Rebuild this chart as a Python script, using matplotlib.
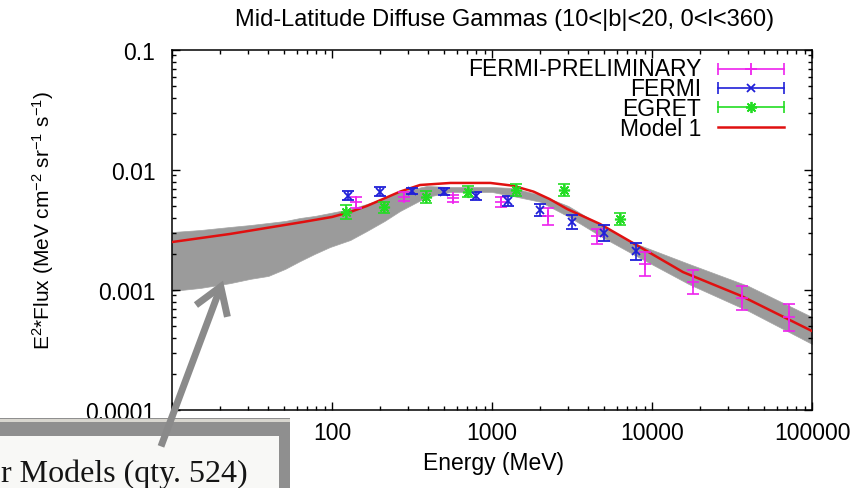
import numpy as np
import matplotlib
matplotlib.use('Agg')
import matplotlib.pyplot as plt
from matplotlib.patches import Rectangle, FancyArrowPatch
from matplotlib.ticker import FixedLocator, FixedFormatter, LogLocator, NullFormatter

plt.rcParams['font.family'] = ['Liberation Sans', 'DejaVu Sans']
plt.rcParams['mathtext.default'] = 'regular'

# FERMI preliminary spectrum (MeV, MeV cm^-2 sr^-1 s^-1), error half-width in dex
prelim_e = [141, 282, 570, 1138, 2239, 4529, 9036, 18030, 36300, 71800]
prelim_flux = [0.0054, 0.0060, 0.0058, 0.0054, 0.0041, 0.0028, 0.00165, 0.00117, 0.00086, 0.00059]
prelim_err = [0.045, 0.04, 0.028, 0.042, 0.067, 0.06, 0.1, 0.1, 0.1, 0.11]

# FERMI
fermi_e = [126, 200, 316, 501, 794, 1259, 1995, 3162, 5012, 7943]
fermi_flux = [0.0061, 0.0066, 0.0067, 0.0066, 0.0061, 0.0055, 0.0046, 0.0037, 0.0030, 0.0021]
fermi_err = [0.036, 0.035, 0.028, 0.03, 0.033, 0.04, 0.05, 0.058, 0.065, 0.07]

# EGRET
egret_e = [122, 212, 387, 707, 1414, 2828, 6325]
egret_flux = [0.0045, 0.0049, 0.0060, 0.0066, 0.0068, 0.0068, 0.0039]
egret_err = [0.058, 0.045, 0.05, 0.045, 0.048, 0.048, 0.05]

# Model 1
model_e = [10, 23, 66, 100, 130, 165, 266, 355, 550, 977, 1350, 1820, 2290, 2950,
           4730, 8410, 15630, 36300, 100000]
model_flux = [0.00251, 0.00293, 0.00369, 0.00406, 0.00447, 0.00501, 0.0066, 0.0075,
              0.0078, 0.0078, 0.0074, 0.0066, 0.00573, 0.00473, 0.00355, 0.00228,
              0.00141, 0.00089, 0.000455]

# envelope of the other 524 models
band_e = [10, 15, 23, 31, 40, 51, 63, 78, 97, 130, 165, 213, 266, 391, 547,
          1000, 1350, 2000, 3000, 5000, 8000, 17000, 40000, 100000]
band_hi = [0.00304, 0.00316, 0.00335, 0.00348, 0.00362, 0.00376, 0.00398, 0.00414,
           0.00438, 0.00473, 0.00521, 0.00585, 0.00656, 0.00736, 0.00721,
           0.00721, 0.00708, 0.0062, 0.00501, 0.00335, 0.00242, 0.00165, 0.00108, 0.000596]
band_lo = [0.000982, 0.00104, 0.00114, 0.00124, 0.00131, 0.00150, 0.00174, 0.00200,
           0.00228, 0.00261, 0.00310, 0.00376, 0.00455, 0.00596, 0.00656,
           0.00656, 0.00607, 0.00544, 0.0041, 0.00271, 0.00192, 0.00112, 0.00067, 0.000355]

x_ticks = [10, 100, 1000, 10000, 100000]
x_labels = ['10', '100', '1000', '10000', '100000']
y_ticks = [0.0001, 0.001, 0.01, 0.1]
y_labels = ['0.0001', '0.001', '0.01', '0.1']

key_names = ['FERMI-PRELIMINARY', 'FERMI', 'EGRET', 'Model 1']

MAGENTA = '#ee22ee'
BLUE = '#2020d8'
GREEN = '#22dd22'
RED = '#e01010'
FS = 16.5
W, H = 856, 489


def fx(px):
    return px / W


def fy(py):
    return 1 - py / H


def ax_x(px):
    return (px - 172) / 640


def ax_y(py):
    return (411 - py) / 360


def dex_bars(flux, err):
    flux = np.array(flux)
    err = np.array(err)
    return [flux - flux / 10**err, flux * 10**err - flux]


fig = plt.figure(figsize=(W / 100, H / 100), dpi=100)
ax = fig.add_axes([fx(172), fy(411), 640 / W, 360 / H])
ax.set_xscale('log')
ax.set_yscale('log')
ax.set_xlim(10, 100000)
ax.set_ylim(0.0001, 0.1)

ax.fill_between(band_e, band_lo, band_hi, color='#9b9b9b', lw=0.5, edgecolor='#a4a4a4', zorder=1)
ax.plot(model_e, model_flux, color=RED, lw=1.8, zorder=3)

ax.errorbar(prelim_e, prelim_flux, yerr=dex_bars(prelim_flux, prelim_err), fmt='+',
            color=MAGENTA, ms=8, mew=1.2, elinewidth=1.2, capsize=4, capthick=1.2, zorder=4)
ax.errorbar(fermi_e, fermi_flux, yerr=dex_bars(fermi_flux, fermi_err), fmt='x',
            color=BLUE, ms=6, mew=1.3, elinewidth=1.2, capsize=4, capthick=1.2, zorder=4)
ax.errorbar(egret_e, egret_flux, yerr=dex_bars(egret_flux, egret_err), fmt='none',
            color=GREEN, elinewidth=1.2, capsize=4, capthick=1.2, zorder=4)
ax.plot(egret_e, egret_flux, ls='none', marker=(8, 2, 0), color=GREEN, ms=8, mew=1.2, zorder=4)

ax.xaxis.set_major_locator(FixedLocator(x_ticks))
ax.xaxis.set_major_formatter(FixedFormatter(x_labels))
ax.yaxis.set_major_locator(FixedLocator(y_ticks))
ax.yaxis.set_major_formatter(FixedFormatter(y_labels))
for axis in (ax.xaxis, ax.yaxis):
    axis.set_minor_locator(LogLocator(base=10, subs=np.arange(2, 10)))
    axis.set_minor_formatter(NullFormatter())
ax.tick_params(which='both', direction='in', top=True, right=True, width=1, labelsize=FS)
ax.tick_params(which='major', length=6)
ax.tick_params(which='minor', length=3)
ax.tick_params(axis='x', pad=8)
ax.tick_params(axis='y', pad=12)
for s in ax.spines.values():
    s.set_linewidth(1.1)

ax.set_xlabel('Energy (MeV)', fontsize=FS)
ax.xaxis.set_label_coords(0.503, -0.115)
ax.set_ylabel('E$^{2}$*Flux (MeV cm$^{-2}$ sr$^{-1}$ s$^{-1}$)', fontsize=15)
ax.yaxis.set_label_coords(-0.181, 0.528)
fig.text(fx(505), fy(20), 'Mid-Latitude Diffuse Gammas (10<|b|<20, 0<l<360)',
         ha='center', va='center', fontsize=17)

# key, drawn gnuplot style with horizontal error bars; names as one text block
key_rows = [69.5 + 19.4 * i for i in range(4)]
ax.text(ax_x(701), ax_y(np.mean(key_rows) + 1), '\n'.join(key_names), transform=ax.transAxes,
        ha='right', va='center', multialignment='right', fontsize=FS, linespacing=0.83)
key_styles = [(MAGENTA, '+'), (BLUE, 'x'), (GREEN, (8, 2, 0)), (RED, None)]
for row, (col, mk) in zip(key_rows, key_styles):
    ky = ax_y(row)
    kx = [ax_x(718), ax_x(784)]
    if mk is None:
        ax.plot(kx, [ky, ky], color=col, lw=1.8, transform=ax.transAxes)
        continue
    ax.plot(kx, [ky, ky], color=col, lw=1.2, transform=ax.transAxes)
    ax.plot(kx, [ky, ky], ls='none', marker='|', ms=8, mew=1.2, color=col,
            transform=ax.transAxes)
    ax.plot([ax_x(751)], [ky], ls='none', marker=mk, ms=8 if mk != 'x' else 6, mew=1.3,
            color=col, transform=ax.transAxes)

# caption box in the lower left corner
fig.add_artist(Rectangle((fx(-5), fy(494)), 295 / W, 75 / H, transform=fig.transFigure,
                         facecolor='#8f8f8f', edgecolor='none', zorder=5))
fig.add_artist(Rectangle((fx(-5), fy(423)), 295 / W, 3 / H, transform=fig.transFigure,
                         facecolor='#d8d6cf', edgecolor='none', zorder=5))
fig.add_artist(Rectangle((fx(-5), fy(494)), 284 / W, 57 / H, transform=fig.transFigure,
                         facecolor='#f8f8f6', edgecolor='none', zorder=6))
fig.text(fx(1), fy(482), 'r Models (qty. 524)', family=['Liberation Serif', 'DejaVu Serif'],
         fontsize=23, color='#151515', ha='left', va='baseline', zorder=7)

fig.add_artist(FancyArrowPatch((fx(160), fy(450)), (fx(224), fy(279)),
                               transform=fig.transFigure,
                               arrowstyle='->,head_length=0.85,head_width=0.55',
                               mutation_scale=22, lw=5, color='#8a8a8a',
                               capstyle='butt', joinstyle='miter', zorder=8))

fig.savefig('out.png', dpi=100)
